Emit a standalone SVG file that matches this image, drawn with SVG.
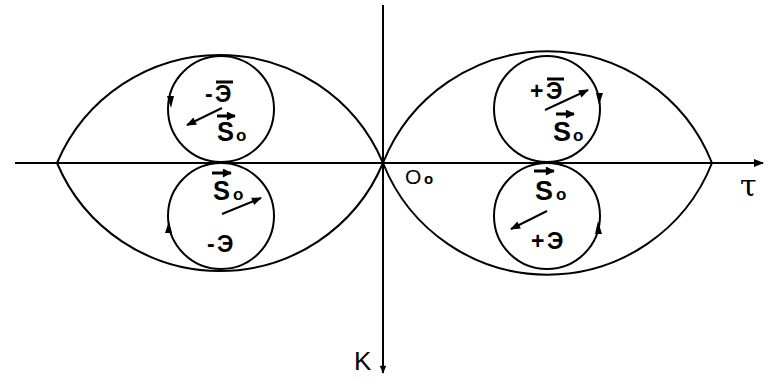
<svg xmlns="http://www.w3.org/2000/svg" width="771" height="381" viewBox="0 0 771 381">
<defs>
<marker id="ah" viewBox="0 0 10 10" refX="9" refY="5" markerWidth="10" markerHeight="9" orient="auto" markerUnits="userSpaceOnUse">
<path d="M0,0 L10,5 L0,10 Z" fill="#000"/>
</marker>
<marker id="ahs" viewBox="0 0 10 10" refX="9" refY="5" markerWidth="10" markerHeight="8" orient="auto" markerUnits="userSpaceOnUse">
<path d="M0,1 L10,5 L0,9 Z" fill="#000"/>
</marker>
<marker id="ahb" viewBox="0 0 10 10" refX="9" refY="5" markerWidth="14" markerHeight="10" orient="auto" markerUnits="userSpaceOnUse">
<path d="M0,1 L10,5 L0,9 Z" fill="#000"/>
</marker>
</defs>
<style>
.ln{fill:none;stroke:#000;stroke-width:2}
.ax{fill:none;stroke:#000;stroke-width:2}
.vec{fill:none;stroke:#000;stroke-width:2;marker-end:url(#ahb)}
.sv{stroke:#000;stroke-width:3;marker-end:url(#ah)}
.bar{stroke:#000;stroke-width:3}
.t{font-family:"Liberation Sans","DejaVu Sans",sans-serif;font-weight:bold;fill:#000}
.e{font-size:23px}
.s{font-size:28px}
.sub{font-size:17px}
</style>
<rect width="771" height="381" fill="#fff"/>
<g id="axes">
<line class="ax" x1="15" y1="163" x2="763" y2="163" marker-end="url(#ahb)"/>
<line class="ax" x1="383" y1="5" x2="383" y2="373" marker-end="url(#ahs)"/>
</g>
<g id="connectors">
<path class="ln" d="M57,163 A177,177 0 0 1 383,163"/>
<path class="ln" d="M57,163 A177,177 0 0 0 383,163"/>
<path class="ln" d="M383,163 A177,177 0 0 1 712,163"/>
<path class="ln" d="M383,163 A177,177 0 0 0 712,163"/>
</g>
<g id="c-left-top">
<circle class="ln" cx="221" cy="109" r="53"/>
<path d="M167,96 L174,96 L171,108 Z" fill="#000"/>
<text class="t e" x="205" y="102">-</text>
<text class="t e" x="215" y="102">Э</text>
<line class="bar" x1="216" y1="82" x2="233" y2="82"/>
<line class="vec" x1="222" y1="108" x2="187" y2="125"/>
<line class="sv" x1="217" y1="116" x2="235" y2="116"/>
<text class="t s" x="217" y="141" textLength="17" lengthAdjust="spacingAndGlyphs">S</text>
<text class="t sub" x="236" y="141">o</text>
</g>
<g id="c-left-bottom">
<circle class="ln" cx="221" cy="216" r="53"/>
<path d="M165,233 L172,233 L169,221 Z" fill="#000"/>
<line class="sv" x1="212" y1="173" x2="231" y2="173"/>
<text class="t s" x="213" y="200" textLength="17" lengthAdjust="spacingAndGlyphs">S</text>
<text class="t sub" x="233" y="200">o</text>
<line class="vec" x1="222" y1="214" x2="261" y2="198"/>
<text class="t e" x="207" y="252">-</text>
<text class="t e" x="217" y="252">Э</text>
</g>
<g id="c-right-top">
<circle class="ln" cx="547" cy="109" r="53"/>
<path d="M596,93 L603,93 L599,105 Z" fill="#000"/>
<text class="t e" x="530" y="99">+</text>
<text class="t e" x="546" y="99">Э</text>
<line class="bar" x1="547" y1="79" x2="564" y2="79"/>
<line class="vec" x1="545" y1="110" x2="588" y2="90"/>
<line class="sv" x1="556" y1="114" x2="574" y2="114"/>
<text class="t s" x="553" y="141" textLength="18" lengthAdjust="spacingAndGlyphs">S</text>
<text class="t sub" x="573" y="141">o</text>
</g>
<g id="c-right-bottom">
<circle class="ln" cx="547" cy="216" r="53"/>
<path d="M595,234 L602,234 L598,221 Z" fill="#000"/>
<line class="sv" x1="534" y1="171" x2="554" y2="171"/>
<text class="t s" x="535" y="200" textLength="18" lengthAdjust="spacingAndGlyphs">S</text>
<text class="t sub" x="556" y="200">o</text>
<line class="vec" x1="547" y1="211" x2="511" y2="229"/>
<text class="t e" x="531" y="249">+</text>
<text class="t e" x="547" y="249">Э</text>
</g>
<g id="labels">
<text x="405" y="184" font-family="Liberation Sans, sans-serif" font-size="21" fill="#000">O</text>
<text x="424" y="184" font-family="Liberation Sans, sans-serif" font-weight="bold" font-size="15" fill="#000">o</text>
<text x="354" y="370" font-family="Liberation Sans, sans-serif" font-size="26" fill="#000">K</text>
<text x="740" y="196" font-family="DejaVu Serif, serif" font-size="30" fill="#000">τ</text>
</g>
</svg>
